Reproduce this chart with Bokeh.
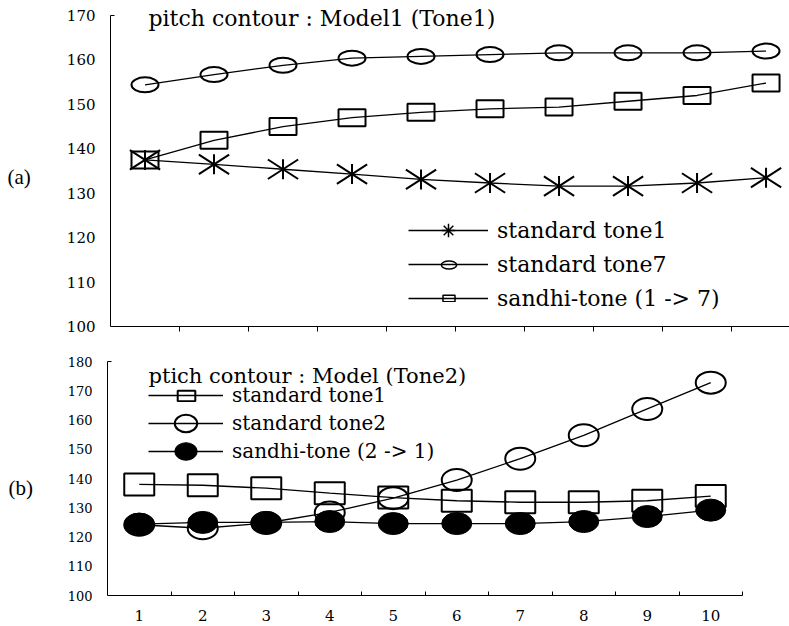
import numpy as np
from bokeh.plotting import figure
from bokeh.models import (ColumnDataSource, FixedTicker, Legend, LegendItem, Label, Range1d)
from bokeh.layouts import column, row
from bokeh.embed import file_html
from bokeh.resources import INLINE

# ---------------- data ----------------
positions = list(range(1, 11))

# panel (a): pitch contour : Model1 (Tone1)
a_standard_tone1 = [137.5, 136.5, 135.4, 134.3, 133.1, 132.3, 131.6, 131.6, 132.3, 133.5]
a_standard_tone7 = [154.4, 156.7, 158.8, 160.4, 160.8, 161.2, 161.6, 161.6, 161.6, 162.0]
a_sandhi_1_7 = [137.5, 141.9, 145.0, 147.0, 148.2, 149.0, 149.4, 150.7, 152.0, 154.8]

# panel (b): ptich contour : Model (Tone2)
b_standard_tone1 = [138.0, 137.7, 136.7, 135.0, 133.5, 132.4, 131.9, 131.9, 132.4, 134.0]
b_standard_tone2 = [124.2, 123.0, 124.8, 128.4, 133.3, 139.5, 146.8, 154.8, 163.8, 172.8]
b_sandhi_2_1 = [124.4, 125.0, 125.0, 125.3, 124.6, 124.6, 124.6, 125.3, 127.0, 129.2]

a_yticks = [100, 110, 120, 130, 140, 150, 160, 170]
b_yticks = [100, 110, 120, 130, 140, 150, 160, 170, 180]
boundaries = [i + 0.5 for i in positions]

title_a = "pitch contour : Model1 (Tone1)"
title_b = "ptich contour : Model (Tone2)"
labels_a = ["standard tone1", "standard tone7", "sandhi-tone (1 -> 7)"]
labels_b = ["standard tone1", "standard tone2", "sandhi-tone (2 -> 1)"]
panel_a = "(a)"
panel_b = "(b)"

FONT = "DejaVu Serif"
PFONT = "Liberation Serif"

src_a = ColumnDataSource(dict(x=positions, t1=a_standard_tone1, t7=a_standard_tone7, s=a_sandhi_1_7))
src_b = ColumnDataSource(dict(x=positions, t1=b_standard_tone1, t2=b_standard_tone2, s=b_sandhi_2_1))
# sources for legend-only sample glyphs (never drawn in the plot area)
dummy_a = ColumnDataSource(dict(x=[np.nan], y=[np.nan]))
dummy_b = ColumnDataSource(dict(x=[np.nan], y=[np.nan]))


def style(p, tick_font_size, bounds, yticks):
    p.grid.visible = False
    p.outline_line_color = None
    p.background_fill_color = "white"
    p.border_fill_color = "white"
    ax = p.yaxis[0]
    ax.bounds = bounds
    ax.ticker = FixedTicker(ticks=yticks, minor_ticks=[bounds[1]])
    ax.major_tick_in = 0
    ax.major_tick_out = 0
    ax.minor_tick_in = 4
    ax.minor_tick_out = 0
    ax.minor_tick_line_color = "black"
    ax.axis_line_color = "black"
    ax.major_label_text_font = FONT
    ax.major_label_text_font_size = tick_font_size
    ax.major_label_text_color = "black"
    ax.major_label_standoff = 15
    xa = p.xaxis[0]
    xa.axis_line_color = "black"
    xa.major_tick_in = 0
    xa.major_tick_out = 0


def marker_key(p, renderer, vx, vy, w, h):
    """A one-glyph legend box (no label) used to draw a legend sample at a given size."""
    leg = Legend(items=[LegendItem(label="", renderers=[renderer])],
                 location=(vx, vy), glyph_width=w, glyph_height=h, padding=0, margin=0,
                 spacing=0, label_standoff=0, label_width=0, label_height=0,
                 label_text_font_size="6px", border_line_color=None, background_fill_alpha=0)
    p.add_layout(leg)


def side_label(text, height, x, y):
    # its frame is aligned with the neighbouring plot's frame inside the row
    f = figure(width=45, height=height, x_range=Range1d(0, 1), y_range=Range1d(0, 1),
               output_backend="svg", toolbar_location=None, min_border=0)
    f.axis.visible = False
    f.grid.visible = False
    f.outline_line_color = None
    f.add_layout(Label(x=x, y=y, x_units="screen", y_units="screen", text=text,
                       text_font=PFONT, text_font_size="21px", text_baseline="middle",
                       text_color="black"))
    return f


# ---------------- panel (a) ----------------
pa = figure(width=744, height=336, x_range=Range1d(0.5, 10.34), y_range=Range1d(100, 173.38),
            output_backend="svg", toolbar_location=None,
            min_border_left=65, min_border_right=0, min_border_top=0, min_border_bottom=10)
style(pa, "15px", (100, 170), a_yticks)
pa.xaxis[0].ticker = FixedTicker(ticks=[], minor_ticks=boundaries[:-1])
pa.xaxis[0].minor_tick_in = 0
pa.xaxis[0].minor_tick_out = 5
pa.xaxis[0].minor_tick_line_color = "black"

la1 = pa.line("x", "t1", source=src_a, line_color="black", line_width=1.3)
la7 = pa.line("x", "t7", source=src_a, line_color="black", line_width=1.3)
las = pa.line("x", "s", source=src_a, line_color="black", line_width=1.3)

# asterisks (vertical + two diagonals)
pa.scatter("x", "t1", source=src_a, marker="dash", size=20, angle=np.pi / 2, line_color="black", line_width=2)
pa.scatter("x", "t1", source=src_a, marker="dash", size=36, angle=0.573, line_color="black", line_width=2)
pa.scatter("x", "t1", source=src_a, marker="dash", size=36, angle=-0.573, line_color="black", line_width=2)
pa.ellipse("x", "t7", source=src_a, width=27, height=15, width_units="screen", height_units="screen",
           fill_color=None, line_color="black", line_width=2)
pa.rect("x", "s", source=src_a, width=27, height=17, width_units="screen", height_units="screen",
        fill_color=None, line_color="black", line_width=2)

# legend sample glyphs
da_star = pa.scatter("x", "y", source=dummy_a, marker="asterisk", size=13, line_color="black", line_width=1.5)
da_circ = pa.ellipse("x", "y", source=dummy_a, width=15, height=8, width_units="screen", height_units="screen",
                     fill_color=None, line_color="black", line_width=1.5)
da_sq = pa.rect("x", "y", source=dummy_a, width=15, height=8, width_units="screen", height_units="screen",
                fill_color=None, line_color="black", line_width=1.5)

leg_a = Legend(items=[
    LegendItem(label=labels_a[0], renderers=[la1, da_star]),
    LegendItem(label=labels_a[1], renderers=[la7]),
    LegendItem(label=labels_a[2], renderers=[las]),
], location=(298, 11), glyph_width=80, glyph_height=34, spacing=0, padding=0, margin=0,
    label_standoff=9, label_text_font=FONT, label_text_font_size="22px", label_text_color="black",
    border_line_color=None, background_fill_alpha=0)
pa.add_layout(leg_a)
marker_key(pa, da_circ, 328.5, 52.5, 19, 19)
marker_key(pa, da_sq, 330.5, 24, 15, 8)

pa.add_layout(Label(x=38, y=308, x_units="screen", y_units="screen", text=title_a,
                    text_font=FONT, text_font_size="22px", text_baseline="middle", text_color="black"))

# ---------------- panel (b) ----------------
# frame: top at canvas y=338, bottom at canvas y=595
pb = figure(width=744, height=290, x_range=Range1d(0.5, 10.5), y_range=Range1d(100, 187.9),
            output_backend="svg", toolbar_location=None,
            min_border_left=62, min_border_right=47, min_border_top=2, min_border_bottom=31)
style(pb, "13px", (100, 180), b_yticks)
pb.xaxis[0].ticker = FixedTicker(ticks=positions, minor_ticks=boundaries)
pb.xaxis[0].minor_tick_in = 4
pb.xaxis[0].minor_tick_out = 0
pb.xaxis[0].minor_tick_line_color = "black"
pb.xaxis[0].major_label_text_font = FONT
pb.xaxis[0].major_label_text_font_size = "15px"
pb.xaxis[0].major_label_text_color = "black"
pb.xaxis[0].major_label_standoff = 14

lb1 = pb.line("x", "t1", source=src_b, line_color="black", line_width=1.3)
lb2 = pb.line("x", "t2", source=src_b, line_color="black", line_width=1.3)
lbs = pb.line("x", "s", source=src_b, line_color="black", line_width=1.3)

pb.rect("x", "t1", source=src_b, width=30, height=22, width_units="screen", height_units="screen",
        fill_color=None, line_color="black", line_width=2)
pb.ellipse("x", "t2", source=src_b, width=30, height=22, width_units="screen", height_units="screen",
           fill_color=None, line_color="black", line_width=2)
pb.ellipse("x", "s", source=src_b, width=30, height=22, width_units="screen", height_units="screen",
           fill_color="black", line_color="black", line_width=1)

db_sq = pb.rect("x", "y", source=dummy_b, width=22, height=13, width_units="screen", height_units="screen",
                fill_color=None, line_color="black", line_width=2)
db_circ = pb.ellipse("x", "y", source=dummy_b, width=22, height=17, width_units="screen", height_units="screen",
                     fill_color=None, line_color="black", line_width=2)
db_fill = pb.ellipse("x", "y", source=dummy_b, width=23, height=18, width_units="screen", height_units="screen",
                     fill_color="black", line_color="black", line_width=1)

leg_b = Legend(items=[
    LegendItem(label=labels_b[0], renderers=[lb1]),
    LegendItem(label=labels_b[1], renderers=[lb2, db_circ]),
    LegendItem(label=labels_b[2], renderers=[lbs, db_fill]),
], location=(41, 130), glyph_width=75, glyph_height=28, spacing=0, padding=0, margin=0,
    label_standoff=9, label_text_font=FONT, label_text_font_size="20px", label_text_color="black",
    border_line_color=None, background_fill_alpha=0)
pb.add_layout(leg_b)
marker_key(pb, db_sq, 67.5, 193.5, 22, 13)

pb.add_layout(Label(x=41, y=220, x_units="screen", y_units="screen", text=title_b,
                    text_font=FONT, text_font_size="21px", text_baseline="middle", text_color="black"))

# side labels: y measured from the (aligned) frame bottoms at canvas y=326 and y=595
lab_a = side_label(panel_a, 336, 7, 326 - 176)
lab_b = side_label(panel_b, 290, 8, 595 - 487)

layout = column(row(lab_a, pa, spacing=0), row(lab_b, pb, spacing=0), spacing=0)
open("out.html", "w").write(file_html(layout, INLINE))
